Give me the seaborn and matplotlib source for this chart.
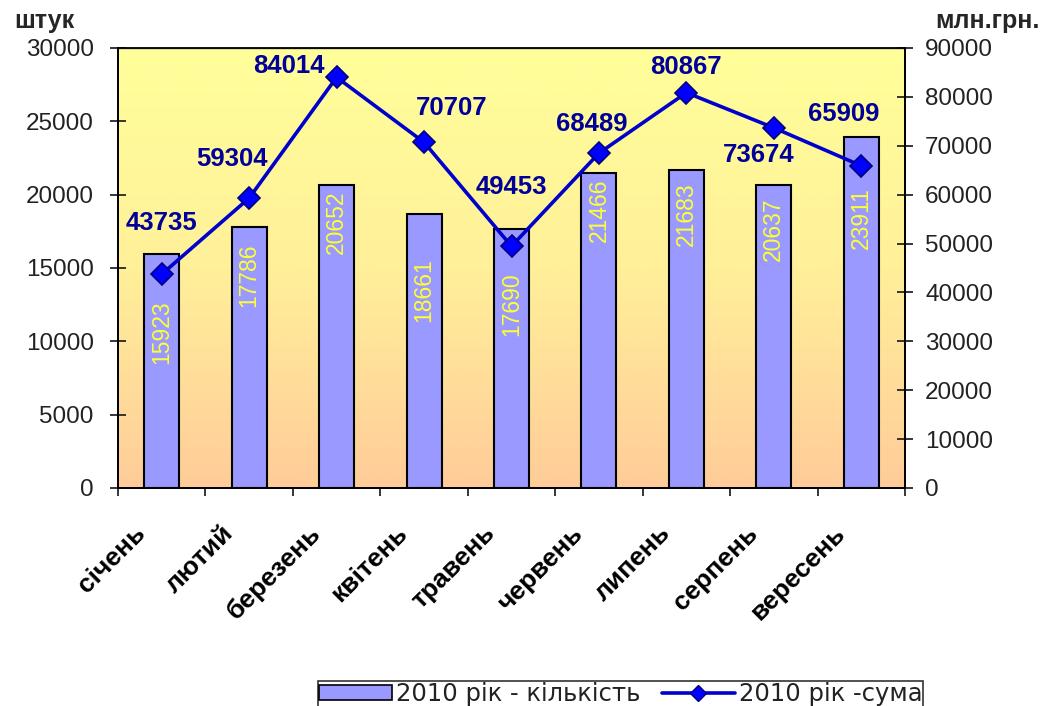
import numpy as np
import pandas as pd
import seaborn as sns
import matplotlib.pyplot as plt
from matplotlib.colors import LinearSegmentedColormap
from matplotlib.lines import Line2D
from matplotlib.patches import Patch
from matplotlib.transforms import ScaledTranslation

months = ['січень', 'лютий', 'березень', 'квітень', 'травень',
          'червень', 'липень', 'серпень', 'вересень']
counts = [15923, 17786, 20652, 18661, 17690, 21466, 21683, 20637, 23911]
sums = [43735, 59304, 84014, 70707, 49453, 68489, 80867, 73674, 65909]

# label nudges in pixels (the original labels were moved by hand)
sum_label_shift = [(0, 51), (-17, 39), (-48, 11), (28, 34), (0, 59),
                   (-7, 29), (0, 26), (-15, -27), (-18, 52)]
count_label_drop = [46, 16, 5, 44, 44, 5, 12, 12, 50]

sns.set_style('white')
plt.rcParams['font.family'] = ['Liberation Sans', 'DejaVu Sans']

fig = plt.figure(figsize=(10.42, 7.06), dpi=100)
ax = fig.add_axes([118/1042, 1 - 488/706, (905-118)/1042, (488-48)/706])

# gradient background of the plot area
grad = LinearSegmentedColormap.from_list('bg', ['#FFCC99', '#FFF099', '#FFFF99'])
ax.imshow(np.linspace(0, 1, 256).reshape(-1, 1), cmap=grad, origin='lower',
          extent=[0, 1, 0, 1], transform=ax.transAxes, aspect='auto', zorder=0)

df = pd.DataFrame({'month': months, 'count': counts, 'sum': sums})
sns.barplot(data=df, x='month', y='count', color='#9999FF', saturation=1,
            width=0.4, edgecolor='black', linewidth=1.5, ax=ax, zorder=2)
ax.set_xlim(-0.5, 8.5)
ax.set_ylim(0, 30000)
ax.set_yticks(range(0, 30001, 5000))
ax.set_xlabel('')
ax.set_ylabel('')

for i, v in enumerate(counts):
    ax.annotate(str(v), (i, v), xytext=(0, -count_label_drop[i]),
                textcoords='offset pixels', rotation=90, ha='center', va='top',
                color='#FFFF33', fontsize=16.5, zorder=3)

ax2 = ax.twinx()
sns.lineplot(x=np.arange(len(sums)), y=sums, ax=ax2, color='#0000CC',
             linewidth=2.6, marker='D', markersize=11,
             markerfacecolor='#0000FF', markeredgecolor='#000080',
             markeredgewidth=1.2, zorder=4)
ax2.set_ylim(0, 90000)
ax2.set_yticks(range(0, 90001, 10000))
ax2.set_xlim(-0.5, 8.5)

for i, v in enumerate(sums):
    dx, dy = sum_label_shift[i]
    ax2.annotate(str(v), (i, v), xytext=(dx, dy), textcoords='offset pixels',
                 ha='center', va='center', color='#000099',
                 fontsize=18.5, fontweight='bold')

# axes styling, Excel-like
for a in (ax, ax2):
    for s in a.spines.values():
        s.set_color('black')
        s.set_linewidth(1.3)
ax.spines['top'].set_color('#555555')
ax.spines['top'].set_linewidth(1)
ax.tick_params(axis='y', direction='inout', length=11, width=1.3,
               labelsize=17.5, labelcolor='#222222', pad=12, left=True)
ax2.tick_params(axis='y', direction='inout', length=11, width=1.3,
                labelsize=17.5, labelcolor='#222222', pad=9, right=True)

ax.set_xticks(np.arange(-0.5, 9, 1), minor=True)
ax.tick_params(axis='x', which='minor', direction='out', length=6, width=1.3,
               bottom=True)
ax.tick_params(axis='x', which='major', length=0, pad=30)
ax.set_xticks(range(len(months)))
ax.set_xticklabels(months, rotation=45, ha='right', va='center',
                   rotation_mode='anchor', fontsize=19, fontweight='bold',
                   color='black')
for lab in ax.get_xticklabels():
    lab.set_transform(lab.get_transform()
                      + ScaledTranslation(-0.2, 0, fig.dpi_scale_trans))

fig.text(14/1042, 1 - 9/706, 'штук', ha='left', va='top',
         fontsize=18, fontweight='bold')
fig.text(1040/1042, 1 - 9/706, 'млн.грн.', ha='right', va='top',
         fontsize=18, fontweight='bold')

handles = [Patch(facecolor='#9999FF', edgecolor='black', linewidth=1.2),
           Line2D([], [], color='#0000CC', linewidth=2.6, marker='D',
                  markersize=8, markerfacecolor='#0000FF',
                  markeredgecolor='#000080')]
leg = fig.legend(handles, ['2010 рік - кількість', '2010 рік -сума'],
                 loc='upper left', bbox_to_anchor=(318/1042, 1 - 681/706),
                 ncol=2, frameon=True, fancybox=False,
                 prop={'family': 'DejaVu Sans', 'size': 17.5},
                 edgecolor='black', handlelength=3.0, handleheight=0.55,
                 handletextpad=0.15, columnspacing=0.9, borderpad=0.05,
                 borderaxespad=0)
leg.get_frame().set_linewidth(1.2)
for t in leg.get_texts():
    t.set_color('#222222')

fig.savefig('out.png', dpi=100)
